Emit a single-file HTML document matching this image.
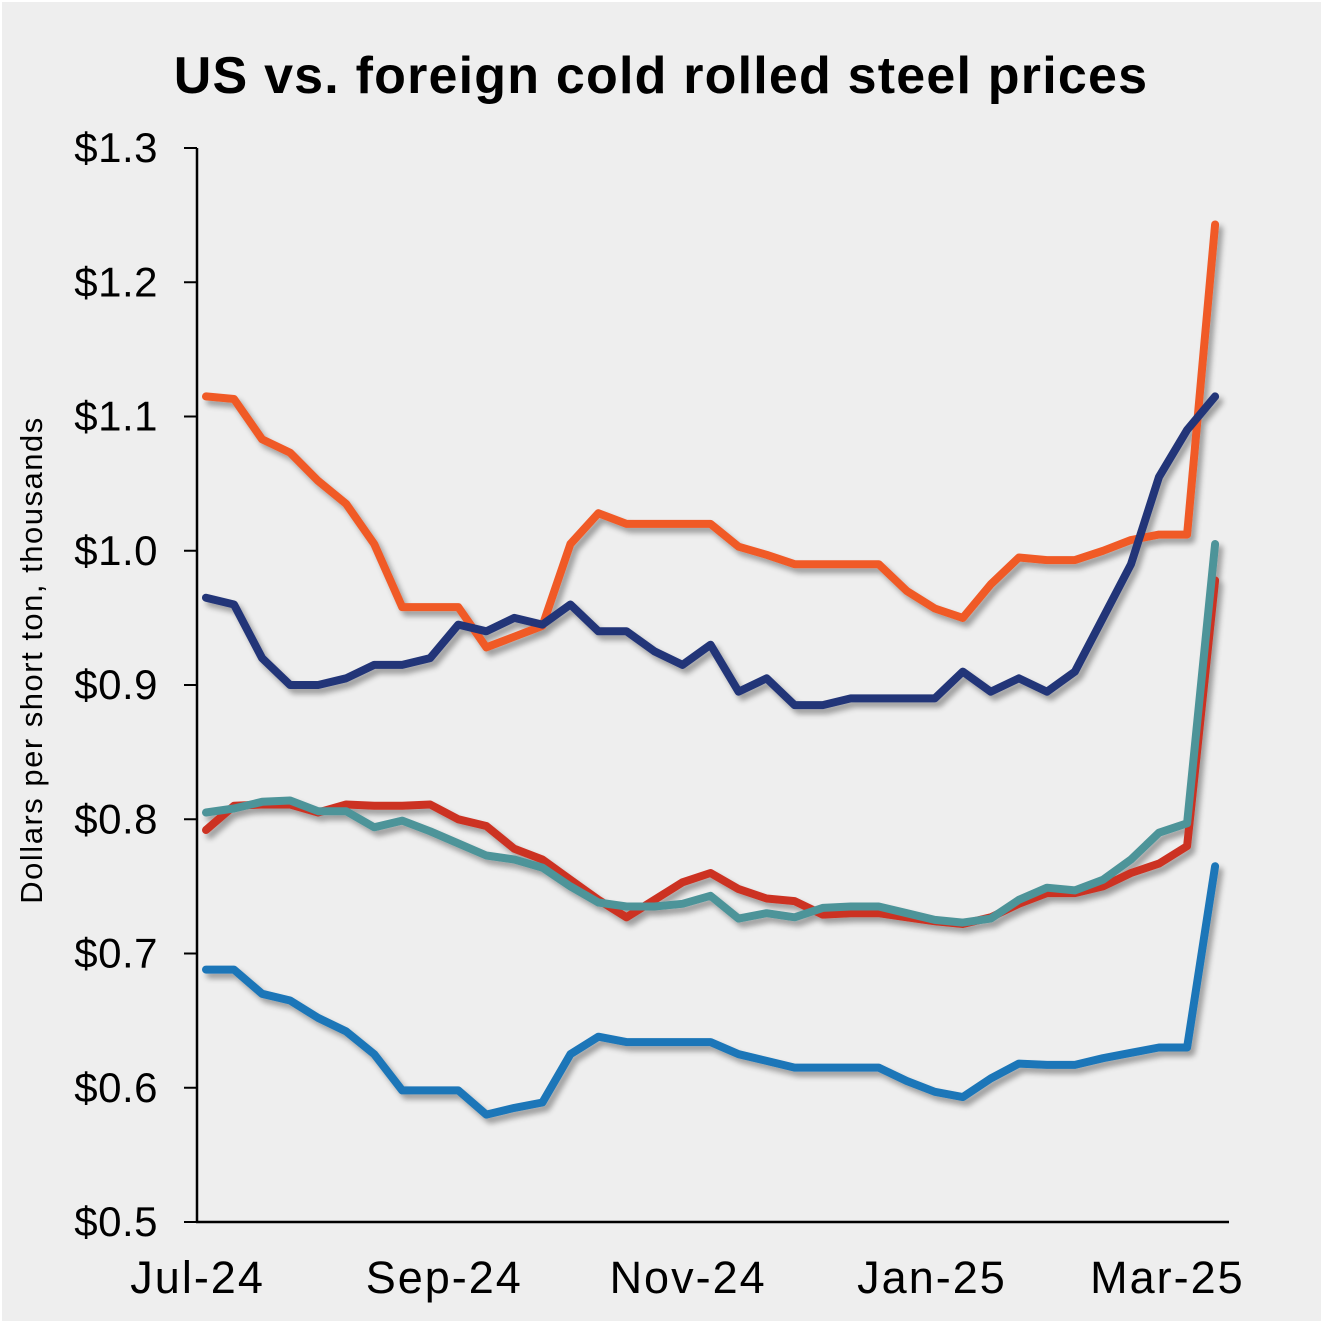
<!DOCTYPE html>
<html><head><meta charset="utf-8"><style>
html,body{margin:0;padding:0;background:#fff}
svg{display:block}
text{font-family:"Liberation Sans",sans-serif;fill:#000}
</style></head><body>
<svg id="chart" width="1323" height="1323">
<defs><filter id="sh" x="-10%" y="-10%" width="120%" height="120%"><feGaussianBlur in="SourceAlpha" stdDeviation="3"/><feOffset dx="4" dy="5"/><feComponentTransfer><feFuncA type="linear" slope="0.35"/></feComponentTransfer><feMerge><feMergeNode/><feMergeNode in="SourceGraphic"/></feMerge></filter></defs>
<rect x="2" y="2" width="1319" height="1319" fill="#eeeeee"/>
<text x="661" y="93" text-anchor="middle" font-size="52" font-weight="bold" letter-spacing="1.2">US vs. foreign cold rolled steel prices</text>
<text transform="translate(42,660) rotate(-90)" text-anchor="middle" font-size="31" letter-spacing="1.5">Dollars per short ton, thousands</text>
<g id="axes"></g>
<g id="series" filter="url(#sh)"></g>
</svg>
<script>
const yTicks=[0.5,0.6,0.7,0.8,0.9,1.0,1.1,1.2,1.3];
const xLabels=["Jul-24","Sep-24","Nov-24","Jan-25","Mar-25"];
const xLabelIdx=[-0.3,8.5,17.2,25.9,34.3];
const orange=[1.115,1.113,1.083,1.073,1.052,1.035,1.005,0.958,0.958,0.958,0.928,0.936,0.944,1.005,1.028,1.02,1.02,1.02,1.02,1.003,0.997,0.99,0.99,0.99,0.99,0.97,0.957,0.95,0.975,0.995,0.993,0.993,1.0,1.008,1.012,1.012,1.243];
const navy=[0.965,0.96,0.92,0.90,0.90,0.905,0.915,0.915,0.92,0.945,0.94,0.95,0.945,0.96,0.94,0.94,0.925,0.915,0.93,0.895,0.905,0.885,0.885,0.89,0.89,0.89,0.89,0.91,0.895,0.905,0.895,0.91,0.95,0.99,1.055,1.09,1.115];
const red=[0.792,0.81,0.811,0.811,0.805,0.811,0.81,0.81,0.811,0.80,0.795,0.778,0.77,0.755,0.74,0.727,0.74,0.753,0.76,0.748,0.741,0.739,0.729,0.73,0.73,0.727,0.724,0.722,0.727,0.737,0.745,0.745,0.75,0.76,0.767,0.78,0.978];
const teal=[0.805,0.808,0.813,0.814,0.806,0.806,0.794,0.799,0.791,0.782,0.773,0.77,0.764,0.75,0.738,0.735,0.735,0.737,0.743,0.726,0.73,0.727,0.734,0.735,0.735,0.73,0.725,0.723,0.726,0.74,0.749,0.747,0.755,0.77,0.79,0.797,1.005];
const blue=[0.688,0.688,0.67,0.665,0.652,0.642,0.625,0.598,0.598,0.598,0.58,0.585,0.589,0.625,0.638,0.634,0.634,0.634,0.634,0.625,0.62,0.615,0.615,0.615,0.615,0.605,0.597,0.593,0.607,0.618,0.617,0.617,0.622,0.626,0.63,0.63,0.765];
const seriesNames=["orange-series","navy-series","red-series","teal-series","blue-series"];
const NS="http://www.w3.org/2000/svg";
const y=v=>1222-(v-0.5)*1342.5;
const x=i=>206+i*28.03;
function mk(t,a,p){const e=document.createElementNS(NS,t);for(const k in a)e.setAttribute(k,a[k]);p.appendChild(e);return e;}
const ax=document.getElementById('axes');
let l=mk('line',{x1:197,y1:148,x2:197,y2:1222,stroke:'#000','stroke-width':2.5},ax);


l=mk('line',{x1:196,y1:1222,x2:1229,y2:1222,stroke:'#000','stroke-width':2.5},ax);


yTicks.forEach(v=>{
 const t=mk('line',{x1:184,y1:y(v),x2:197,y2:y(v),stroke:'#000','stroke-width':2},ax);
 
 
 const tx=mk('text',{x:158,y:y(v)+14,'text-anchor':'end','font-size':42,'letter-spacing':0.5},ax);
 tx.textContent='$'+v.toFixed(1);
 
 
});
xLabels.forEach((s,i)=>{
 const tx=mk('text',{x:x(xLabelIdx[i]),y:1293,'text-anchor':'middle','font-size':45,'letter-spacing':2},ax);
 tx.textContent=s;
 
 
});
const sg=document.getElementById('series');
[[orange,'#f05a28'],[navy,'#233578'],[red,'#cc3324'],[teal,'#4e9499'],[blue,'#1a76b8']].forEach(([d,c],k)=>{
 const pts=d.map((v,i)=>x(i).toFixed(1)+','+y(v).toFixed(1)).join(' ');
 const p=mk('polyline',{points:pts,fill:'none',stroke:c,'stroke-width':8,'stroke-linejoin':'round','stroke-linecap':'round'},sg);
 
 
});
</script>
</body></html>
